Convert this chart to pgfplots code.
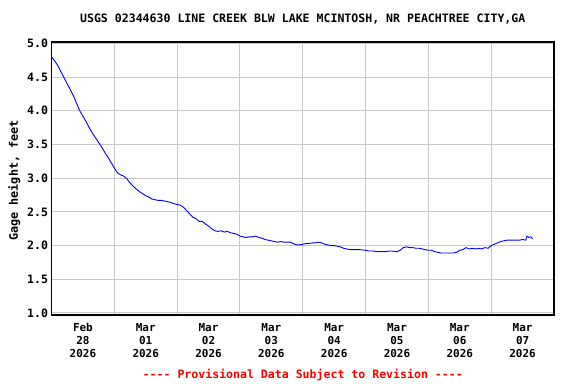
\documentclass[border=0pt]{standalone}
\usepackage{pgfplots}
\pgfplotsset{compat=1.18}
\usepackage{fontspec}
\setmainfont{DejaVu Sans Mono}
\definecolor{gridgray}{RGB}{200,200,200}
\begin{document}
\begin{tikzpicture}
\path[use as bounding box] (0,0) rectangle (576bp,384bp);
\begin{axis}[
  at={(51.5bp,69bp)}, anchor=south west,
  scale only axis, width=502.5bp, height=273bp,
  xmin=0, xmax=8, ymin=0.97, ymax=5.02,
  axis line style={black, line width=1.2bp},
  xtick={0.5,1.5,...,7.5},
  xticklabels={{Feb\\28\\2026},{Mar\\01\\2026},{Mar\\02\\2026},{Mar\\03\\2026},{Mar\\04\\2026},{Mar\\05\\2026},{Mar\\06\\2026},{Mar\\07\\2026}},
  xticklabel style={align=center, font=\fontsize{11}{12.8}\selectfont\bfseries, yshift=-5bp},
  minor xtick={1,2,...,7},
  xminorgrids,
  minor grid style={gridgray, line width=1bp},
  ytick={1,1.5,2,2.5,3,3.5,4,4.5,5},
  yticklabel style={font=\fontsize{11.6}{13}\selectfont\bfseries, /pgf/number format/.cd, fixed, fixed zerofill, precision=1},
  /pgf/number format/assume math mode=true,
  ymajorgrids,
  major grid style={gridgray, line width=1bp},
  major tick length=0pt, minor tick length=0pt,
  ylabel={Gage height, feet},
  ylabel style={font=\fontsize{11.8}{13}\selectfont\bfseries, at={(ticklabel cs:0.5)}, xshift=-2bp},
]
\addplot[blue, line width=0.9bp, sharp plot] coordinates {
(0.00,4.80)(0.05,4.74)(0.10,4.67)(0.15,4.58)(0.20,4.49)(0.25,4.40)(0.30,4.31)(0.35,4.22)(0.40,4.11)(0.45,4.00)
(0.50,3.92)(0.55,3.84)(0.60,3.75)(0.65,3.67)(0.70,3.60)(0.75,3.53)(0.80,3.46)(0.85,3.38)(0.90,3.31)(0.95,3.23)
(1.00,3.15)(1.05,3.08)(1.10,3.05)(1.15,3.03)(1.20,2.99)(1.25,2.93)(1.30,2.88)(1.35,2.84)(1.40,2.80)(1.45,2.77)
(1.50,2.74)(1.55,2.72)(1.60,2.69)(1.65,2.68)(1.70,2.67)(1.75,2.67)(1.80,2.66)(1.85,2.65)(1.90,2.64)(1.95,2.62)
(2.00,2.61)(2.05,2.60)(2.10,2.57)(2.15,2.52)(2.20,2.47)(2.25,2.42)(2.30,2.40)(2.35,2.36)(2.40,2.36)(2.45,2.32)
(2.50,2.29)(2.55,2.25)(2.60,2.22)(2.65,2.21)(2.70,2.22)(2.75,2.20)(2.80,2.21)(2.85,2.19)(2.90,2.18)(2.95,2.17)
(3.00,2.14)(3.05,2.13)(3.10,2.12)(3.15,2.13)(3.20,2.13)(3.25,2.14)(3.30,2.12)(3.35,2.11)(3.40,2.09)(3.45,2.08)
(3.50,2.07)(3.55,2.06)(3.60,2.05)(3.65,2.06)(3.70,2.05)(3.75,2.05)(3.80,2.05)(3.85,2.03)(3.90,2.01)(3.95,2.01)
(4.00,2.02)(4.05,2.03)(4.10,2.03)(4.15,2.04)(4.20,2.04)(4.25,2.05)(4.30,2.04)(4.35,2.02)(4.40,2.01)(4.45,2.00)
(4.50,2.00)(4.55,1.99)(4.60,1.98)(4.65,1.96)(4.70,1.95)(4.75,1.94)(4.80,1.94)(4.90,1.94)(5.00,1.93)(5.05,1.92)
(5.10,1.92)(5.20,1.91)(5.30,1.91)(5.40,1.92)(5.50,1.91)(5.55,1.93)(5.60,1.97)(5.65,1.98)(5.70,1.97)(5.75,1.97)
(5.80,1.96)(5.85,1.96)(5.90,1.95)(5.95,1.94)(6.00,1.93)(6.05,1.93)(6.10,1.91)(6.15,1.90)(6.20,1.89)(6.30,1.89)
(6.40,1.89)(6.45,1.90)(6.50,1.93)(6.55,1.94)(6.60,1.97)(6.65,1.95)(6.70,1.96)(6.75,1.95)(6.80,1.96)(6.85,1.95)
(6.90,1.97)(6.95,1.96)(7.00,2.00)(7.05,2.02)(7.10,2.04)(7.15,2.06)(7.20,2.07)(7.25,2.08)(7.30,2.08)(7.35,2.08)
(7.40,2.08)(7.45,2.08)(7.50,2.09)(7.55,2.08)(7.57,2.14)(7.60,2.12)(7.63,2.13)(7.66,2.10)
};
\end{axis}
\node[font=\fontsize{11.6}{13}\selectfont\bfseries] at (302.75bp,365bp) {USGS 02344630 LINE CREEK BLW LAKE MCINTOSH, NR PEACHTREE CITY,GA};
\node[font=\fontsize{11.6}{13}\selectfont\bfseries, text=red] at (302.75bp,9bp) {-{}-{}-{}- Provisional Data Subject to Revision -{}-{}-{}-};
\end{tikzpicture}
\end{document}
